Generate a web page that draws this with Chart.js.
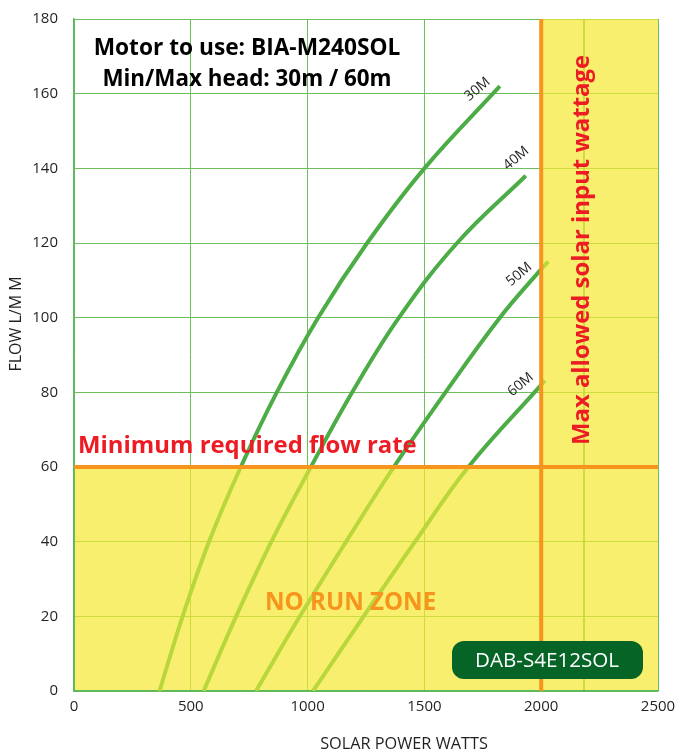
<!DOCTYPE html>
<html>
<head>
<meta charset="utf-8">
<script src="https://cdn.jsdelivr.net/npm/chart.js@4/dist/chart.umd.min.js"></script>
<style>
  body { margin: 0; background: #fff; }
</style>
</head>
<body>
<canvas id="chart" width="683" height="751"></canvas>
<script>
// values
let xTicks = [0, 500, 1000, 1500, 2000, 2500];
let heads = ["30M", "40M", "50M", "60M"];
let watts30 = [366, 465, 578, 714, 868, 1045, 1255, 1500, 1823];
let flow30 = [0, 20, 40, 60, 80, 100, 120, 140, 162];
let watts40 = [555, 694, 845, 1014, 1191, 1391, 1640, 1934];
let flow40 = [0, 20, 40, 60, 80, 100, 120, 138];
let watts50 = [779, 967, 1165, 1369, 1590, 1823, 2000, 2030];
let flow50 = [0, 20, 40, 60, 80, 100, 113, 115];
let watts60 = [1023, 1240, 1460, 1688, 2000, 2016];
let flow60 = [0, 20, 40, 60, 82, 83.2];
let minFlow = 60;
let maxWatts = 2000;

let darkGreen = "#4cad46";
let lightGreen = "#b9d63a";
let orange = "#f7941d";
let red = "#ed1c24";
let gridGreen = "#6dbf5c";
let font = "'Open Sans', 'Noto Sans', sans-serif";

function points(ws, fs) {
  return ws.map((w, i) => ({ x: w, y: fs[i] }));
}
let series = [points(watts30, flow30), points(watts40, flow40), points(watts50, flow50), points(watts60, flow60)];

function segColor(ctx) {
  let p0 = ctx.p0.parsed, p1 = ctx.p1.parsed;
  if (Math.min(p0.y, p1.y) < minFlow || Math.max(p0.x, p1.x) > maxWatts) return lightGreen;
  return darkGreen;
}

function fitFont(ctx, text, width, weight) {
  ctx.font = weight + " 100px " + font;
  let size = 100 * width / ctx.measureText(text).width;
  ctx.font = weight + " " + size.toFixed(1) + "px " + font;
}

let zones = {
  id: "zones",
  beforeDatasetsDraw(chart) {
    let ctx = chart.ctx, a = chart.chartArea;
    let xs = chart.scales.x, ys = chart.scales.y;
    let x2k = xs.getPixelForValue(maxWatts), y60 = ys.getPixelForValue(minFlow);
    ctx.save();
    // extra gridline the original has inside the right zone
    ctx.strokeStyle = "#4aa63c";
    ctx.lineWidth = 1.5;
    let xg = Math.round(xs.getPixelForValue(2185));
    ctx.beginPath();
    ctx.moveTo(xg, a.top);
    ctx.lineTo(xg, a.bottom);
    ctx.stroke();
    ctx.fillStyle = "rgba(246,232,48,0.7)";
    ctx.beginPath();
    ctx.rect(a.left + 1, y60, a.right - a.left - 1, a.bottom - 1 - y60);
    ctx.rect(x2k, a.top, a.right - x2k, y60 - a.top);
    ctx.fill();
    ctx.restore();
  },
  afterDatasetsDraw(chart) {
    let ctx = chart.ctx, a = chart.chartArea;
    let xs = chart.scales.x, ys = chart.scales.y;
    let x2k = xs.getPixelForValue(maxWatts), y60 = ys.getPixelForValue(minFlow);
    ctx.save();
    ctx.strokeStyle = orange;
    ctx.lineWidth = 4;
    ctx.beginPath();
    ctx.moveTo(a.left, y60);
    ctx.lineTo(a.right, y60);
    ctx.moveTo(x2k, a.top);
    ctx.lineTo(x2k, a.bottom);
    ctx.stroke();

    ctx.textAlign = "center";
    ctx.textBaseline = "alphabetic";
    ctx.fillStyle = "#000";
    fitFont(ctx, "Motor to use: BIA-M240SOL", 307, "bold");
    ctx.fillText("Motor to use: BIA-M240SOL", 247, 55);
    fitFont(ctx, "Min/Max head: 30m / 60m", 289, "bold");
    ctx.fillText("Min/Max head: 30m / 60m", 247, 86);

    ctx.fillStyle = red;
    ctx.textAlign = "left";
    fitFont(ctx, "Minimum required flow rate", 339, "bold");
    ctx.fillText("Minimum required flow rate", 78, 453);

    ctx.fillStyle = orange;
    fitFont(ctx, "NO RUN ZONE", 171, "bold");
    ctx.fillText("NO RUN ZONE", 265, 610);

    ctx.save();
    ctx.translate(582, 250);
    ctx.rotate(-Math.PI / 2);
    ctx.fillStyle = red;
    ctx.textAlign = "center";
    ctx.textBaseline = "middle";
    fitFont(ctx, "Max allowed solar input wattage", 390, "bold");
    ctx.fillText("Max allowed solar input wattage", 0, 0);
    ctx.restore();

    // curve labels
    let labelAt = [[1727, 161.2], [1893, 142.7], [1906, 111.6], [1912, 82.1]];
    ctx.fillStyle = "#231f20";
    ctx.font = "14px " + font;
    ctx.textAlign = "center";
    ctx.textBaseline = "middle";
    heads.forEach((h, i) => {
      ctx.save();
      ctx.translate(xs.getPixelForValue(labelAt[i][0]), ys.getPixelForValue(labelAt[i][1]));
      ctx.rotate(-40 * Math.PI / 180);
      ctx.fillText(h, 0, 0);
      ctx.restore();
    });

    // badge
    ctx.fillStyle = "#066526";
    ctx.beginPath();
    ctx.roundRect(452, 641, 191, 38, 12);
    ctx.fill();
    ctx.fillStyle = "#fff";
    ctx.textAlign = "center";
    ctx.textBaseline = "alphabetic";
    fitFont(ctx, "DAB-S4E12SOL", 144, "normal");
    ctx.fillText("DAB-S4E12SOL", 547, 667);
    ctx.restore();
  },
  afterDraw(chart) {
    let ctx = chart.ctx;
    ctx.save();
    ctx.fillStyle = "#231f20";
    ctx.textAlign = "center";
    ctx.textBaseline = "alphabetic";
    fitFont(ctx, "SOLAR POWER WATTS", 168, "normal");
    ctx.fillText("SOLAR POWER WATTS", 404, 749);
    ctx.translate(21, 324);
    ctx.rotate(-Math.PI / 2);
    fitFont(ctx, "FLOW L/M M", 95, "normal");
    ctx.fillText("FLOW L/M M", 0, 0);
    ctx.restore();
  }
};

new Chart("chart", {
  type: "scatter",
  data: {
    datasets: heads.map((h, i) => ({
      label: h,
      data: series[i],
      showLine: true,
      borderWidth: 4,
      borderColor: darkGreen,
      pointRadius: 0,
      tension: 0.4,
      segment: { borderColor: segColor },
    })),
  },
  options: {
    responsive: false,
    animation: false,
    devicePixelRatio: 1,
    layout: { padding: { top: 19, right: 25, left: 0, bottom: 0 } },
    plugins: { legend: { display: false }, tooltip: { enabled: false } },
    scales: {
      x: {
        type: "linear",
        min: 0,
        max: 2500,
        afterBuildTicks: (s) => { s.ticks = xTicks.map((v) => ({ value: v })); },
        afterFit: (s) => { s.height = 60; },
        grid: { color: gridGreen, drawTicks: false },
        border: { color: "#5cb85c", width: 1.5 },
        ticks: { padding: 7, color: "#231f20", font: { family: font, size: 15 }, callback: (v) => String(v) },
      },
      y: {
        min: 0,
        max: 180,
        afterFit: (s) => { s.width = 74; s.paddingTop = 9; s.paddingBottom = 9; },
        grid: { color: gridGreen, drawTicks: false },
        border: { color: "#5cb85c", width: 1.5 },
        ticks: { stepSize: 20, padding: 16, color: "#231f20", font: { family: font, size: 15 }, callback: (v) => String(v) },
      },
    },
  },
  plugins: [zones],
});
</script>
</body>
</html>
